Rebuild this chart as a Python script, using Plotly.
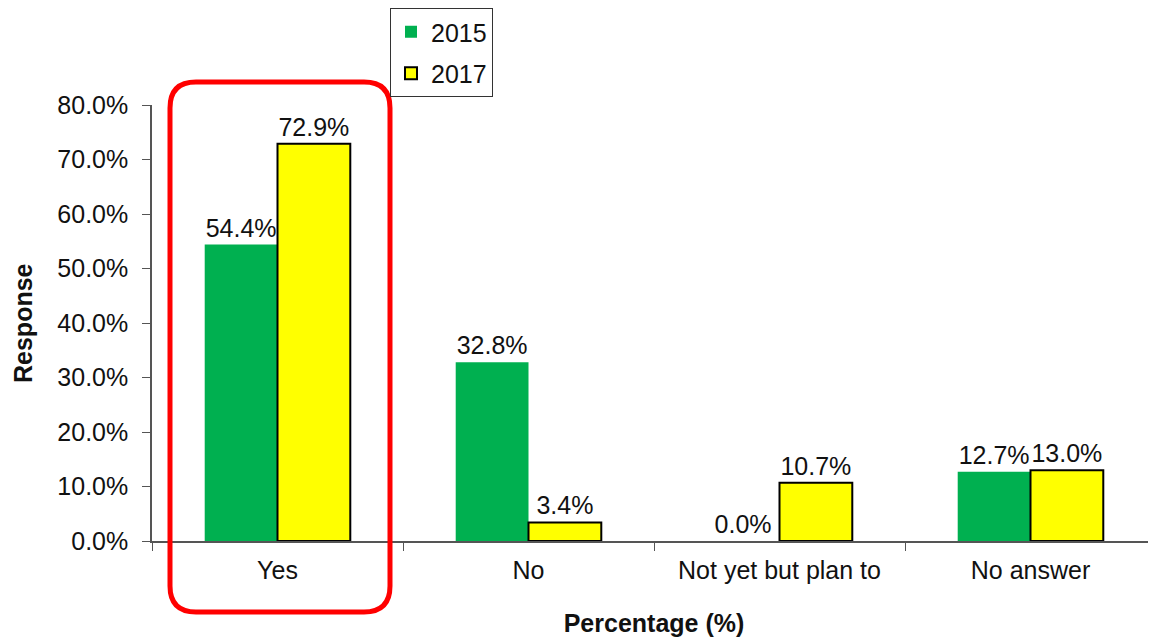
import plotly.graph_objects as go

categories = ["Yes", "No", "Not yet but plan to", "No answer"]
values_2015 = [54.4, 32.8, 0.0, 12.7]
values_2017 = [72.9, 3.4, 10.7, 13.0]
series_names = ["2015", "2017"]
y_ticks = [0, 10, 20, 30, 40, 50, 60, 70, 80]

FONT = "Liberation Sans, Arial, sans-serif"
FS = 25

fig = go.Figure()
fig.add_trace(go.Bar(
    x=categories, y=values_2015, name=series_names[0], legendgroup="a",
    marker=dict(color="#00B050", line=dict(color="#00B050", width=0)),
    texttemplate="%{y:.1f}%", textposition="outside",
    textfont=dict(size=FS, color="#111", family=FONT),
))
fig.add_trace(go.Bar(
    x=categories, y=values_2017, name=series_names[1], legendgroup="b",
    marker=dict(color="#FFFF00", line=dict(color="#000000", width=2)),
    texttemplate="%{y:.1f}%", textposition="outside",
    textfont=dict(size=FS, color="#111", family=FONT),
))

OFF = 8  # browser body margin
W, H = 1156 - OFF, 639 - OFF
ml, mr, mt, mb = 152 - OFF, 0, 105 - OFF, 98
pw, ph = W - ml - mr, H - mt - mb

def px_to_paper(xp, yp):
    xp -= OFF
    yp -= OFF
    return (xp - ml) / pw, (H - mb - yp) / ph

# rounded highlight rectangle around "Yes" (pixel geometry -> paper coords)
x0, y0, x1, y1, r = 170, 82, 390, 612, 26
def P(xp, yp):
    a, b = px_to_paper(xp, yp)
    return f"{a:.5f},{b:.5f}"
path = (f"M {P(x0 + r, y0)} L {P(x1 - r, y0)} Q {P(x1, y0)} {P(x1, y0 + r)} "
        f"L {P(x1, y1 - r)} Q {P(x1, y1)} {P(x1 - r, y1)} "
        f"L {P(x0 + r, y1)} Q {P(x0, y1)} {P(x0, y1 - r)} "
        f"L {P(x0, y0 + r)} Q {P(x0, y0)} {P(x0 + r, y0)} Z")
fig.add_shape(type="path", path=path, xref="paper", yref="paper",
              line=dict(color="#FF0000", width=5), layer="above")

lx, ly = px_to_paper(390, 8)
tx, ty = px_to_paper(23, 323)
fig.add_annotation(text="<b>Response</b>", x=tx, y=ty, xref="paper", yref="paper",
                   textangle=-90, showarrow=False, xanchor="center", yanchor="middle",
                   font=dict(size=FS, family=FONT, color="#111"))

fig.update_layout(
    width=W, height=H,
    margin=dict(l=ml, r=mr, t=mt, b=mb),
    paper_bgcolor="white", plot_bgcolor="white",
    barmode="group", bargap=0.42, bargroupgap=0,
    font=dict(family=FONT, size=FS, color="#111"),
    showlegend=True,
    legend=dict(x=lx, y=ly, xanchor="left", yanchor="top",
                bordercolor="#333", borderwidth=1, bgcolor="white",
                font=dict(size=FS, family=FONT, color="#111"),
                itemwidth=30, tracegroupgap=6, traceorder="grouped"),
    xaxis=dict(
        showline=True, linecolor="#555", linewidth=1.5,
        ticks="outside", tickson="boundaries", ticklen=8, tickcolor="#555",
        ticklabelstandoff=6,
        tickfont=dict(size=FS, family=FONT, color="#111"),
        title=dict(text="<b>Percentage (%)</b>", font=dict(size=FS, family=FONT, color="#111"), standoff=32),
        showgrid=False,
    ),
    yaxis=dict(
        range=[0, 80], tickvals=y_ticks,
        ticktext=[f"{v:.1f}%" for v in y_ticks],
        showline=True, linecolor="#555", linewidth=1.5,
        ticks="outside", ticklen=8, tickcolor="#555",
        ticklabelstandoff=9,
        tickfont=dict(size=FS, family=FONT, color="#111"),
        showgrid=False, zeroline=False,
    ),
)

fig.write_html("out.html")
